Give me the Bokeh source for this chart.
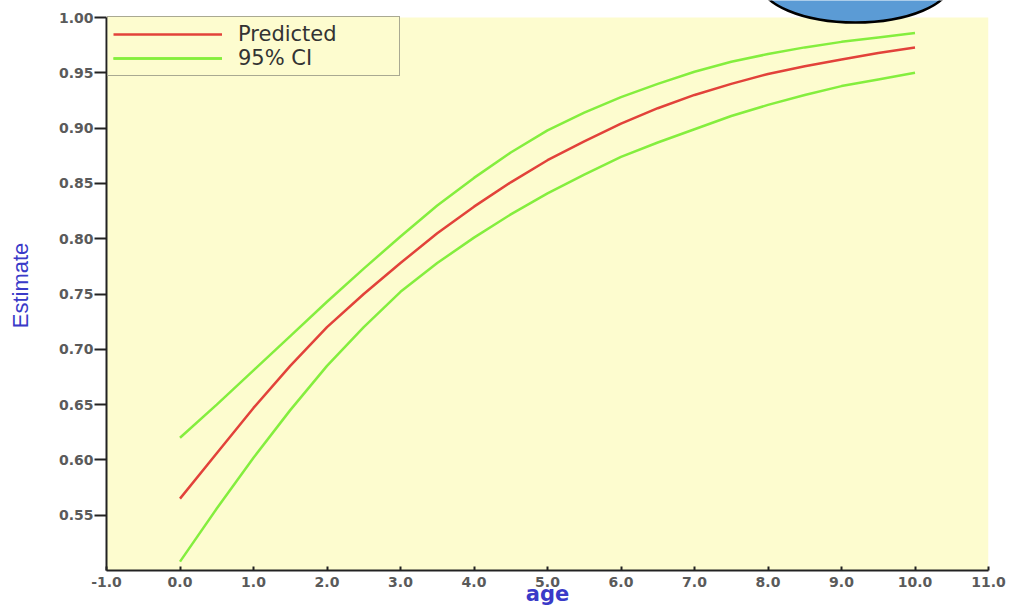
from bokeh.plotting import figure
from bokeh.models import Range1d, BoxAnnotation, FixedTicker, NumeralTickFormatter, Legend, LegendItem
from bokeh.embed import file_html
from bokeh.resources import INLINE

# ---- data ----
age = [0.0, 0.5, 1.0, 1.5, 2.0, 2.5, 3.0, 3.5, 4.0, 4.5, 5.0,
       5.5, 6.0, 6.5, 7.0, 7.5, 8.0, 8.5, 9.0, 9.5, 10.0]
predicted = [0.565, 0.606, 0.647, 0.685, 0.720, 0.750, 0.778, 0.805, 0.829, 0.851, 0.871,
             0.888, 0.904, 0.918, 0.930, 0.940, 0.949, 0.956, 0.962, 0.968, 0.973]
ci_upper = [0.620, 0.650, 0.681, 0.712, 0.743, 0.773, 0.802, 0.830, 0.855, 0.878, 0.898,
            0.914, 0.928, 0.940, 0.951, 0.960, 0.967, 0.973, 0.978, 0.982, 0.986]
ci_lower = [0.508, 0.556, 0.602, 0.645, 0.685, 0.720, 0.752, 0.778, 0.801, 0.822, 0.841,
            0.858, 0.874, 0.887, 0.899, 0.911, 0.921, 0.930, 0.938, 0.944, 0.950]

x_ticks = [-1.0, 0.0, 1.0, 2.0, 3.0, 4.0, 5.0, 6.0, 7.0, 8.0, 9.0, 10.0, 11.0]
y_ticks = [0.55, 0.60, 0.65, 0.70, 0.75, 0.80, 0.85, 0.90, 0.95, 1.00]

# decorative ellipse (cut off at the top of the image)
ellipse_x = 9.19
ellipse_y = 1.0317

PLOT_BG = "#FDFCCF"
RED = "#E2423A"
GREEN = "#84EE3E"

p = figure(width=1013, height=610, output_backend="svg", toolbar_location=None,
           x_range=Range1d(-1.0, 11.0), y_range=Range1d(0.5, 1.0154),
           min_border_left=106, min_border_right=25, min_border_top=0, min_border_bottom=40)
p.outline_line_color = None
p.background_fill_color = "white"
p.border_fill_color = "white"
p.xgrid.visible = False
p.ygrid.visible = False

p.add_layout(BoxAnnotation(left=-1.0, right=11.0, bottom=0.5, top=1.0,
                           fill_color=PLOT_BG, fill_alpha=1.0, line_color=None, level="underlay"))

r_pred = p.line(age, predicted, line_color=RED, line_width=2.5)
r_up = p.line(age, ci_upper, line_color=GREEN, line_width=2.5)
r_lo = p.line(age, ci_lower, line_color=GREEN, line_width=2.5)

p.ellipse(x=[ellipse_x], y=[ellipse_y], width=190, height=80,
          width_units="screen", height_units="screen",
          fill_color="#5B9BD5", line_color="black", line_width=2.5)

# axes
for ax in (p.xaxis[0], p.yaxis[0]):
    ax.axis_line_color = "#222222"
    ax.axis_line_width = 2
    ax.major_tick_line_color = "#222222"
    ax.major_tick_line_width = 2
    ax.minor_tick_line_color = None
    ax.major_label_text_font = "DejaVu Sans"
    ax.major_label_text_font_style = "bold"
    ax.major_label_text_font_size = "14px"
    ax.major_label_text_color = "#5a5a5a"
    ax.axis_label_text_color = "#3a3ac8"

p.xaxis.ticker = FixedTicker(ticks=x_ticks)
p.xaxis.formatter = NumeralTickFormatter(format="0.0")
p.xaxis.bounds = (-1.0, 11.0)
p.xaxis.major_tick_in = 4
p.xaxis.major_tick_out = 0
p.xaxis.major_label_standoff = 6
p.xaxis.axis_label = "age"
p.xaxis.axis_label_standoff = -8
p.xaxis.axis_label_text_font = "DejaVu Sans"
p.xaxis.axis_label_text_font_style = "bold"
p.xaxis.axis_label_text_font_size = "21px"

p.yaxis.ticker = FixedTicker(ticks=y_ticks)
p.yaxis.formatter = NumeralTickFormatter(format="0.00")
p.yaxis.bounds = (0.5, 1.0)
p.yaxis.major_tick_in = 0
p.yaxis.major_tick_out = 12
p.yaxis.major_label_standoff = 1
p.yaxis.axis_label = "Estimate"
p.yaxis.axis_label_standoff = 23
p.yaxis.axis_label_text_font = "Liberation Sans"
p.yaxis.axis_label_text_font_style = "normal"
p.yaxis.axis_label_text_font_size = "22px"

legend = Legend(items=[LegendItem(label="Predicted", renderers=[r_pred]),
                       LegendItem(label="95% CI", renderers=[r_up, r_lo])],
                location=(1, 494), orientation="vertical")
legend.padding = 5
legend.spacing = 0
legend.margin = 0
legend.glyph_width = 109
legend.glyph_height = 24
legend.label_height = 24
legend.label_width = 156
legend.label_standoff = 16
legend.label_text_font = "DejaVu Sans"
legend.label_text_font_size = "21px"
legend.label_text_color = "#333333"
legend.background_fill_color = PLOT_BG
legend.background_fill_alpha = 1.0
legend.border_line_color = "#555555"
legend.border_line_width = 1.5
p.add_layout(legend)

open("out.html", "w").write(file_html(p, INLINE))
